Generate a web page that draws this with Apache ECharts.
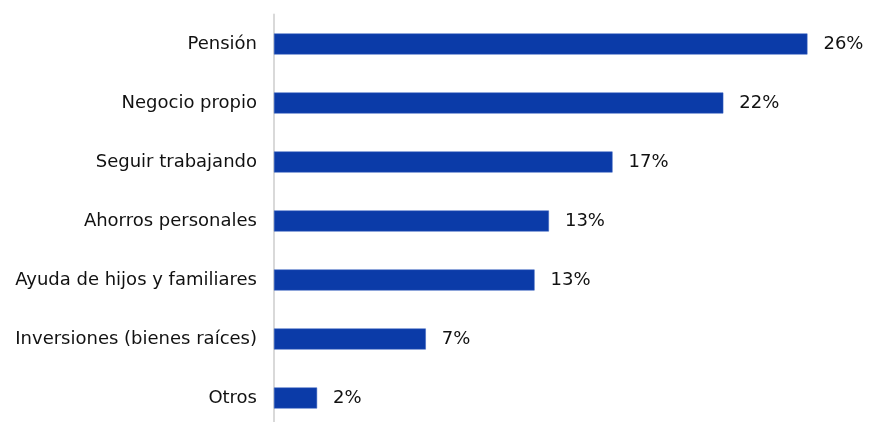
<!DOCTYPE html>
<html>
<head>
<meta charset="utf-8">
<script src="https://cdn.jsdelivr.net/npm/echarts@6/dist/echarts.min.js"></script>
<style>html,body{margin:0;padding:0;background:#fff;overflow:hidden}#c{width:869px;height:440px}</style>
</head>
<body>
<div id="c"></div>
<script>
const categories = ["Pensión","Negocio propio","Seguir trabajando","Ahorros personales","Ayuda de hijos y familiares","Inversiones (bienes raíces)","Otros"];
const values = [26, 21.9, 16.5, 13.4, 12.7, 7.4, 2.1];
const valueLabels = ["26%","22%","17%","13%","13%","7%","2%"];

const chart = echarts.init(document.getElementById('c'));
chart.setOption({
  animation: false,
  grid: { left: 274, top: 14.5, right: 0, height: 413, containLabel: false },
  xAxis: { type: 'value', min: 0, max: 29, show: false },
  yAxis: {
    type: 'category', inverse: true, data: categories,
    axisLine: { show: true, lineStyle: { color: '#d9d9d9', width: 2 } },
    axisTick: { show: false },
    axisLabel: { color: '#111', fontFamily: 'DejaVu Sans', fontSize: 18, margin: 17 }
  },
  series: [{
    type: 'bar', data: values, barWidth: 21,
    itemStyle: { color: '#0B3BA8', borderColor: '#3a64c0', borderWidth: 0.5 },
    label: {
      show: true, position: 'right', distance: 16,
      color: '#111', fontFamily: 'DejaVu Sans', fontSize: 18,
      formatter: p => valueLabels[p.dataIndex]
    }
  }]
});
</script>
</body>
</html>
